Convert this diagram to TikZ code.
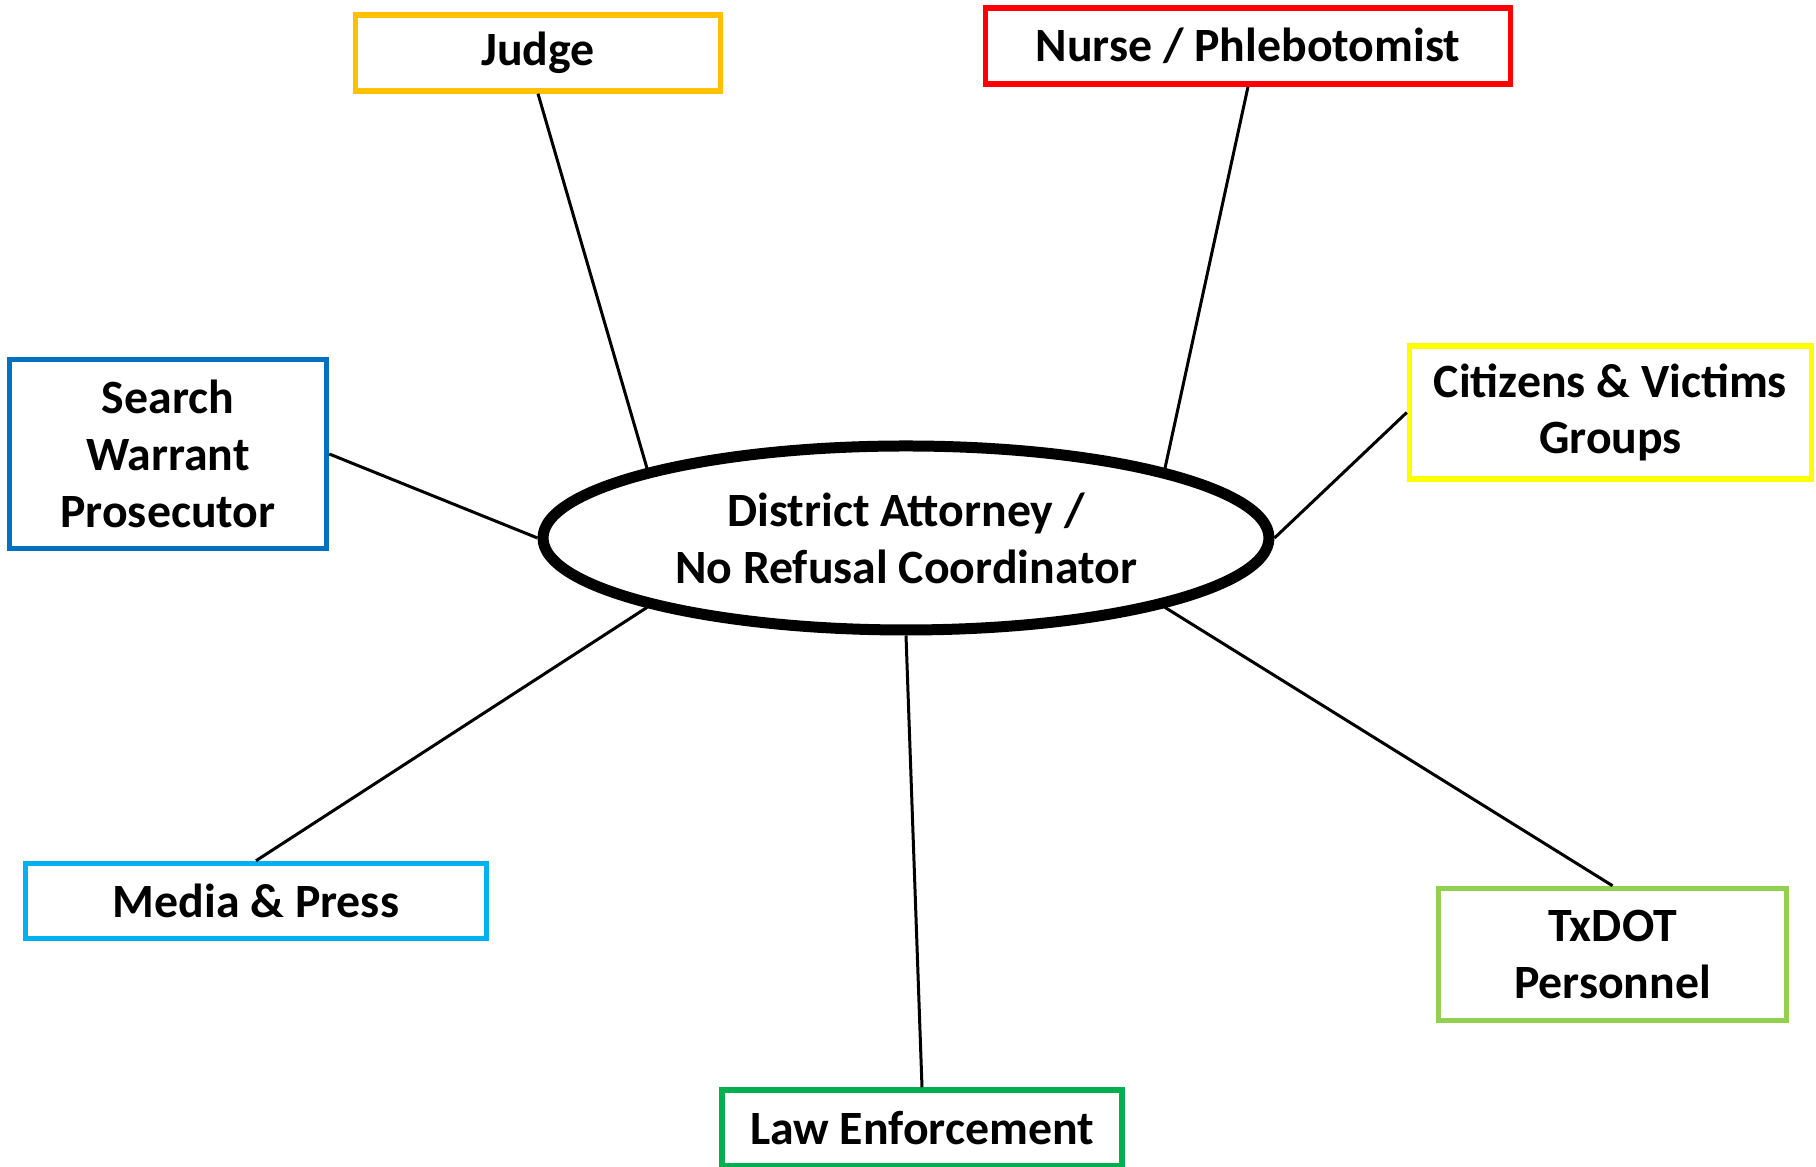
\documentclass[tikz,border=0pt]{standalone}
\usepackage{fontspec}
\setmainfont{Carlito}
\usetikzlibrary{shapes.geometric}

\definecolor{judgeorange}{HTML}{FFC000}
\definecolor{nursered}{HTML}{FF0000}
\definecolor{searchblue}{HTML}{0070C0}
\definecolor{citizenyellow}{HTML}{FFFF00}
\definecolor{mediablue}{HTML}{00B0F0}
\definecolor{txdotgreen}{HTML}{92D050}
\definecolor{lawgreen}{HTML}{00B050}

\begin{document}
\begin{tikzpicture}

\tikzset{hub/.style = {shape=ellipse,draw,line width=0.11cm,minimum width=7.26cm,minimum height=1.84cm,inner sep=0pt,align=center,font=\fontsize{13.6}{16.2}\selectfont\bfseries}}
\tikzset{party/.style = {shape=rectangle,draw=#1,line width=0.055cm,inner sep=0pt,align=center,font=\fontsize{13.6}{16.2}\selectfont\bfseries}}
\tikzset{link/.style = {line width=0.03cm}}
\useasboundingbox (0,0) rectangle (18.16,11.67);
%verticies
\node[hub] (0) at (9.06,6.29) {District Attorney /\\No Refusal Coordinator};
\node[party=judgeorange, minimum width=3.65cm, minimum height=0.76cm] (1) at (5.38,11.14) {Judge};
\node[party=nursered, minimum width=5.25cm, minimum height=0.76cm] (2) at (12.48,11.21) {Nurse / Phlebotomist};
\node[party=searchblue, minimum width=3.17cm, minimum height=1.89cm] (3) at (1.68,7.13) {Search\\Warrant\\Prosecutor};
\node[party=citizenyellow, minimum width=4.02cm, minimum height=1.33cm] (4) at (16.105,7.545) {Citizens \& Victims\\Groups};
\node[party=mediablue, minimum width=4.61cm, minimum height=0.75cm] (5) at (2.56,2.66) {Media \& Press};
\node[party=txdotgreen, minimum width=3.48cm, minimum height=1.32cm] (6) at (16.125,2.125) {TxDOT\\Personnel};
\node[party=lawgreen, minimum width=4.0cm, minimum height=0.76cm] (7) at (9.22,0.39) {Law Enforcement};
%edges
\draw [link] (1.south) -- (0.165);
\draw [link] (2.south) -- (0.15);
\draw [link] (3.east) -- (0.180);
\draw [link] (4.west) -- (0.0);
\draw [link] (5.north) -- (0.195);
\draw [link] (6.north) -- (0.345);
\draw [link] (7.north) -- (0.270);

\end{tikzpicture}
\end{document}
